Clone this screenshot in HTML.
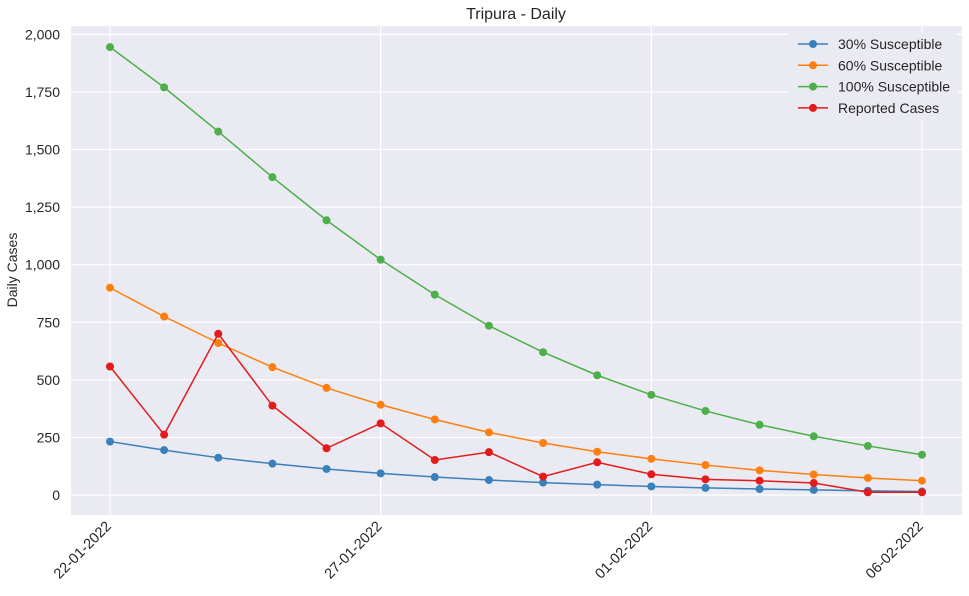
<!DOCTYPE html>
<html><head><meta charset="utf-8"><style>
body{margin:0;background:#fff;font-family:"Liberation Sans",Arial,sans-serif}
</style></head><body>
<svg id="chart" width="969" height="591" xmlns="http://www.w3.org/2000/svg" font-family="Liberation Sans, Arial, sans-serif">
<rect x="71" y="26" width="891" height="489" fill="#eaeaf2"/>
<g id="grid"></g><g id="axes"></g><g id="series"></g>
<text x="516" y="19" text-anchor="middle" font-size="16" fill="#262626">Tripura - Daily</text>
<text transform="translate(17,270) rotate(-90)" text-anchor="middle" font-size="14" fill="#262626">Daily Cases</text>
<g id="legend"></g>
</svg>
<script>
const days=16;
const xTickIdx=[0,5,10,15];
const xTickLabels=["22-01-2022","27-01-2022","01-02-2022","06-02-2022"];
const yTicks=[0,250,500,750,1000,1250,1500,1750,2000];
const yTickLabels=["0","250","500","750","1,000","1,250","1,500","1,750","2,000"];
const s30=[232,195,162,136,113,94,78,65,54,45,37,31,26,22,18,15];
const s60=[900,775,660,555,465,392,328,272,226,188,157,130,107,89,74,62];
const s100=[1945,1770,1578,1380,1193,1022,870,735,620,520,435,365,305,255,213,175];
const reported=[558,262,700,388,203,311,152,186,80,142,90,68,62,52,12,12];
const names=["30% Susceptible","60% Susceptible","100% Susceptible","Reported Cases"];
const colors=["#3a80bb","#ff7f0e","#4daf4a","#e41a1c"];
const X=i=>110+i*(922-110)/(days-1);
const Y=v=>495-v*0.2303;
const NS="http://www.w3.org/2000/svg";
function mk(t,a,p){const e=document.createElementNS(NS,t);for(const k in a)e.setAttribute(k,a[k]);p.appendChild(e);return e;}
const grid=document.getElementById('grid'),axes=document.getElementById('axes'),ser=document.getElementById('series'),leg=document.getElementById('legend');
yTicks.forEach((v,i)=>{
 const l=mk('line',{x1:71,x2:962,y1:Y(v),y2:Y(v),stroke:'#fff','stroke-width':1.2},grid);
 
 
 const t=mk('text',{x:60,y:Y(v)+5,'text-anchor':'end','font-size':14,fill:'#262626'},axes);
 t.textContent=yTickLabels[i];
 
 
});
xTickIdx.forEach((d,i)=>{
 const l=mk('line',{x1:X(d),x2:X(d),y1:26,y2:515,stroke:'#fff','stroke-width':1.2},grid);
 
 
 const tx=X(d)+2, ty=527;
 const t=mk('text',{x:tx,y:ty,'text-anchor':'end','font-size':14.5,fill:'#262626',transform:`rotate(-45 ${tx} ${ty})`},axes);
 t.textContent=xTickLabels[i];
 
 
});
[s30,s60,s100,reported].forEach((s,k)=>{
 const g=mk('g',{},ser);
 
 
 const p=mk('polyline',{points:s.map((v,i)=>X(i)+','+Y(v)).join(' '),fill:'none',stroke:colors[k],'stroke-width':1.5},g);
 
 
 s.forEach((v,i)=>{const c=mk('circle',{cx:X(i),cy:Y(v),r:4,fill:colors[k]},g);
  
  });
});
const lb=mk('rect',{x:788,y:33,width:170,height:88,fill:'#eaeaf2',rx:3},leg);


names.forEach((n,k)=>{
 const y=44+k*21.3;
 const g=mk('g',{},leg);
 
 
 mk('line',{x1:798,x2:828,y1:y,y2:y,stroke:colors[k],'stroke-width':1.5},g);
 mk('circle',{cx:813,cy:y,r:4,fill:colors[k]},g);
 const t=mk('text',{x:838,y:y+5,'font-size':14,fill:'#262626'},g);t.textContent=n;
});
</script>
</body></html>
